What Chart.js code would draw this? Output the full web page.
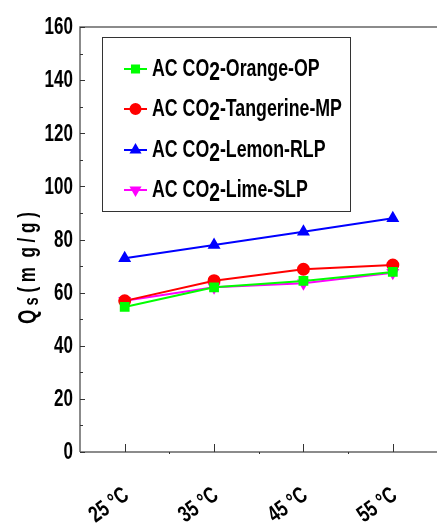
<!DOCTYPE html>
<html>
<head>
<meta charset="utf-8">
<script src="https://cdn.jsdelivr.net/npm/chart.js"></script>
<style>
  html, body { margin: 0; padding: 0; background: #fff; overflow: hidden; }
  #wrap { width: 445px; height: 523px; }
</style>
</head>
<body>
<div id="wrap"><canvas id="chart"></canvas></div>
<script>
const temps = ['25 °C', '35 °C', '45 °C', '55 °C'];
const orange = [54.6, 62.0, 64.4, 67.8];
const tangerine = [56.9, 64.5, 68.8, 70.4];
const lemon = [72.9, 77.9, 82.9, 88.0];
const lime = [56.9, 62.0, 63.5, 67.5];
const yTicks = [0, 20, 40, 60, 80, 100, 120, 140, 160];

const fontFam = '"Liberation Sans", Arial, sans-serif';
const axisColor = '#666';
const narrow = 0.74;

const makeSet = (label, data, color, style, rot) => ({
  label: label,
  data: data,
  borderColor: color,
  backgroundColor: color,
  borderWidth: 2,
  pointStyle: style,
  pointRotation: rot || 0,
  pointRadius: 5.5,
  pointHoverRadius: 5.5,
  tension: 0
});

// condensed bold text, drawn squeezed horizontally
function narrowText(ctx, text, x, y, size, align, angle) {
  ctx.save();
  ctx.translate(x, y);
  ctx.rotate(angle || 0);
  ctx.scale(narrow, 1);
  ctx.font = 'bold ' + size + 'px ' + fontFam;
  ctx.fillStyle = '#000';
  ctx.textAlign = align;
  ctx.textBaseline = 'middle';
  ctx.fillText(text, 0, 0);
  const w = ctx.measureText(text).width * narrow;
  ctx.restore();
  return w;
}

// legend label with the large lowered "2"
function labelText(ctx, text, x, y) {
  const parts = text.split('2');
  let w = narrowText(ctx, parts[0], x, y, 24, 'left');
  w += narrowText(ctx, '2', x + w, y + 4, 26, 'left');
  narrowText(ctx, parts[1], x + w, y, 24, 'left');
}

// draws the axis frame, inward ticks, text and the boxed legend
const framePlugin = {
  id: 'frame',
  afterDraw(chart) {
    const ctx = chart.ctx;
    const area = chart.chartArea;
    const x = chart.scales.x;
    const y = chart.scales.y;
    ctx.save();
    ctx.strokeStyle = axisColor;
    ctx.lineWidth = 1.5;
    ctx.beginPath();
    ctx.moveTo(area.left, area.bottom);
    ctx.lineTo(area.left, area.top);
    ctx.lineTo(area.right, area.top);
    ctx.moveTo(area.left, area.bottom);
    ctx.lineTo(area.right, area.bottom);
    ctx.stroke();

    ctx.lineWidth = 1;
    ctx.strokeStyle = '#333';
    ctx.beginPath();
    for (let v = 0; v <= 160; v += 10) {
      const py = Math.round(y.getPixelForValue(v)) + 0.5;
      const len = v % 20 === 0 ? 5 : 3;
      ctx.moveTo(area.left, py);
      ctx.lineTo(area.left + len, py);
    }
    temps.forEach((t, i) => {
      const px = Math.round(x.getPixelForValue(i)) + 0.5;
      ctx.moveTo(px, area.bottom);
      ctx.lineTo(px, area.bottom - 8);
      if (i < temps.length - 1) {
        const mx = Math.round((x.getPixelForValue(i) + x.getPixelForValue(i + 1)) / 2) + 0.5;
        ctx.moveTo(mx, area.bottom);
        ctx.lineTo(mx, area.bottom + 2);
      }
    });
    ctx.stroke();

    // tick labels
    yTicks.forEach(v => {
      narrowText(ctx, String(v), area.left - 7, y.getPixelForValue(v) + 1, 23, 'right');
    });
    temps.forEach((t, i) => {
      narrowText(ctx, t, x.getPixelForValue(i) + 2, area.bottom + 41, 23, 'right', -0.62);
    });

    // axis title
    ctx.save();
    ctx.translate(29, 262);
    ctx.rotate(-Math.PI / 2);
    let w = narrowText(ctx, 'Q', -62, 0, 25, 'left');
    w += narrowText(ctx, ' s', -62 + w, 3, 20, 'left');
    narrowText(ctx, ' ( m  g / g )', -62 + w, 0, 23, 'left');
    ctx.restore();

    // legend box
    const bx = 102, by = 37, bw = 248, bh = 174;
    ctx.fillStyle = '#fff';
    ctx.fillRect(bx, by, bw, bh);
    ctx.strokeStyle = '#333';
    ctx.lineWidth = 1;
    ctx.strokeRect(bx + 0.5, by + 0.5, bw, bh);

    const rowsY = [69, 109, 150, 190];
    chart.data.datasets.forEach((ds, i) => {
      const ry = rowsY[i];
      ctx.strokeStyle = ds.borderColor;
      ctx.lineWidth = 2;
      ctx.beginPath();
      ctx.moveTo(124, ry);
      ctx.lineTo(147, ry);
      ctx.stroke();
      ctx.fillStyle = ds.borderColor;
      Chart.helpers.drawPoint(ctx, {
        pointStyle: ds.pointStyle,
        rotation: ds.pointRotation,
        radius: 5,
        borderWidth: 1
      }, 135.5, ry);
      labelText(ctx, ds.label, 152, ry);
    });
    ctx.restore();
  }
};

new Chart(document.getElementById('chart'), {
  type: 'line',
  data: {
    labels: temps,
    datasets: [
      makeSet('AC CO2-Orange-OP', orange, '#00ff00', 'rect'),
      makeSet('AC CO2-Tangerine-MP', tangerine, '#ff0000', 'circle'),
      makeSet('AC CO2-Lemon-RLP', lemon, '#0000ff', 'triangle'),
      makeSet('AC CO2-Lime-SLP', lime, '#ff00ff', 'triangle', 180)
    ]
  },
  options: {
    responsive: true,
    maintainAspectRatio: false,
    animation: false,
    layout: { padding: { top: 27, right: 2, left: 0, bottom: 0 } },
    plugins: {
      legend: { display: false },
      tooltip: { enabled: false }
    },
    scales: {
      x: {
        offset: true,
        grid: { display: false, drawTicks: false },
        border: { display: false },
        afterFit(scale) { scale.height = 71; },
        ticks: { display: false }
      },
      y: {
        min: 0,
        max: 160,
        afterBuildTicks(scale) { scale.ticks = yTicks.map(v => ({ value: v })); },
        grid: { display: false, drawTicks: false },
        border: { display: false },
        afterFit(scale) { scale.width = 80; },
        ticks: { display: false }
      }
    }
  },
  plugins: [framePlugin]
});
</script>
</body>
</html>
